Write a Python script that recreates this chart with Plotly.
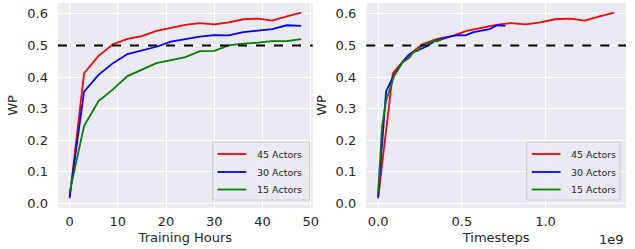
import plotly.graph_objects as go

hours = [0, 3, 6, 9, 12, 15, 18, 21, 24, 27, 30, 33, 36, 39, 42, 45, 48]

wp_45 = [0.016, 0.412, 0.467, 0.504, 0.521, 0.530, 0.546, 0.555, 0.565, 0.571, 0.567, 0.573,
         0.583, 0.585, 0.579, 0.592, 0.604]
wp_30 = [0.020, 0.354, 0.407, 0.444, 0.473, 0.484, 0.496, 0.512, 0.520, 0.528, 0.533, 0.532,
         0.542, 0.546, 0.552, 0.564, 0.562]
wp_15 = [0.034, 0.245, 0.324, 0.361, 0.403, 0.423, 0.444, 0.454, 0.463, 0.482, 0.483, 0.500,
         0.506, 0.509, 0.514, 0.514, 0.520]

steps_45 = [0.0, 0.088e9, 0.176e9, 0.264e9, 0.3525e9, 0.441e9, 0.529e9, 0.617e9, 0.705e9,
            0.793e9, 0.881e9, 0.969e9, 1.0575e9, 1.146e9, 1.234e9, 1.322e9, 1.41e9]
steps_30 = [0.0, 0.0475e9, 0.095e9, 0.1425e9, 0.19e9, 0.2375e9, 0.285e9, 0.3325e9, 0.38e9,
            0.4275e9, 0.475e9, 0.5225e9, 0.57e9, 0.6175e9, 0.665e9, 0.7125e9, 0.76e9]
steps_15 = [0.0, 0.02375e9, 0.0475e9, 0.07125e9, 0.095e9, 0.11875e9, 0.1425e9, 0.16625e9,
            0.19e9, 0.21375e9, 0.2375e9, 0.26125e9, 0.285e9, 0.30875e9, 0.3325e9, 0.35625e9,
            0.38e9]

labels = ["45 Actors", "30 Actors", "15 Actors"]
colors = ["#ff0000", "#0000ff", "#008000"]
threshold = 0.5

hour_ticks = [0, 10, 20, 30, 40, 50]
step_ticks = [0, 0.5e9, 1.0e9]
step_ticktext = ["0.0", "0.5", "1.0"]
wp_ticks = [0.0, 0.1, 0.2, 0.3, 0.4, 0.5, 0.6]

FONT = "DejaVu Sans"
TXT = "#262626"
BG = "#eaeaf2"
FS = 13

fig = go.Figure()

wps = [wp_45, wp_30, wp_15]
steps = [steps_45, steps_30, steps_15]
for i in range(3):
    fig.add_trace(go.Scatter(x=hours, y=wps[i], mode="lines", name=labels[i],
                             line=dict(color=colors[i], width=1.8), xaxis="x", yaxis="y",
                             showlegend=False))
for i in range(3):
    fig.add_trace(go.Scatter(x=steps[i], y=wps[i], mode="lines", name=labels[i],
                             line=dict(color=colors[i], width=1.8), xaxis="x2", yaxis="y2",
                             showlegend=False))

axis_common = dict(showgrid=True, gridcolor="white", gridwidth=1.1, zeroline=False,
                   showline=False, ticks="", tickfont=dict(family=FONT, size=FS, color=TXT),
                   title_font=dict(family=FONT, size=FS, color=TXT))

left_dom = [0, 257 / 573]
right_dom = [311 / 573, 1]

fig.update_layout(
    width=635, height=249,
    margin=dict(l=58, r=4, t=3, b=41),
    paper_bgcolor="white", plot_bgcolor=BG,
    showlegend=False,
    xaxis=dict(domain=left_dom, range=[-2.4, 50.4], tickvals=hour_ticks,
               title=dict(text="Training Hours", standoff=4), ticklabelstandoff=4,
               anchor="y", **axis_common),
    yaxis=dict(domain=[0, 1], range=[-0.0145, 0.6345], tickvals=wp_ticks,
               ticktext=[f"{v:.1f}" for v in wp_ticks],
               title=dict(text="WP", standoff=6), ticklabelstandoff=9, anchor="x",
               **axis_common),
    xaxis2=dict(domain=right_dom, range=[-0.0705e9, 1.4805e9], tickvals=step_ticks,
                ticktext=step_ticktext, title=dict(text="Timesteps", standoff=4),
                ticklabelstandoff=4, anchor="y2", **axis_common),
    yaxis2=dict(domain=[0, 1], range=[-0.0145, 0.6345], tickvals=wp_ticks,
                ticktext=[f"{v:.1f}" for v in wp_ticks],
                title=dict(text="WP", standoff=6), ticklabelstandoff=9, anchor="x2",
                **axis_common),
)

shapes = []
annotations = []
for xr, yr in [("x", "y"), ("x2", "y2")]:
    shapes.append(dict(type="line", xref=f"{xr} domain", yref=yr, x0=0, x1=1,
                       y0=threshold, y1=threshold,
                       line=dict(color="black", width=2, dash="dash")))

# legends
def ypix(py):
    return (208 - py) / 205

legend_specs = [
    ("x", "y", 0.607, 0.988, 0.626, 0.739, 0.774),
    ("x2", "y2", 0.618, 0.977, 0.637, 0.748, 0.782),
]
for xr, yr, bx0, bx1, lx0, lx1, tx in legend_specs:
    shapes.append(dict(type="rect", xref=f"{xr} domain", yref=f"{yr} domain",
                       x0=bx0, x1=bx1, y0=ypix(200), y1=ypix(142),
                       fillcolor="rgba(234,234,242,0.8)", line=dict(color="#cccccc", width=1)))
    for i, py in enumerate([154, 172, 189.5]):
        shapes.append(dict(type="line", xref=f"{xr} domain", yref=f"{yr} domain",
                           x0=lx0, x1=lx1, y0=ypix(py), y1=ypix(py),
                           line=dict(color=colors[i], width=1.8)))
        annotations.append(dict(xref=f"{xr} domain", yref=f"{yr} domain", x=tx, y=ypix(py),
                                text=labels[i], showarrow=False, xanchor="left",
                                yanchor="middle",
                                font=dict(family=FONT, size=9.5, color=TXT)))

annotations.append(dict(xref="paper", yref="paper", x=1.0, y=ypix(240), text="1e9",
                        showarrow=False, xanchor="right", yanchor="middle",
                        font=dict(family=FONT, size=FS, color=TXT)))

fig.update_layout(shapes=shapes, annotations=annotations)

fig.write_html("out.html", config={"displayModeBar": False},
               post_script="document.body.style.margin='0px';document.body.style.overflow='hidden';")
